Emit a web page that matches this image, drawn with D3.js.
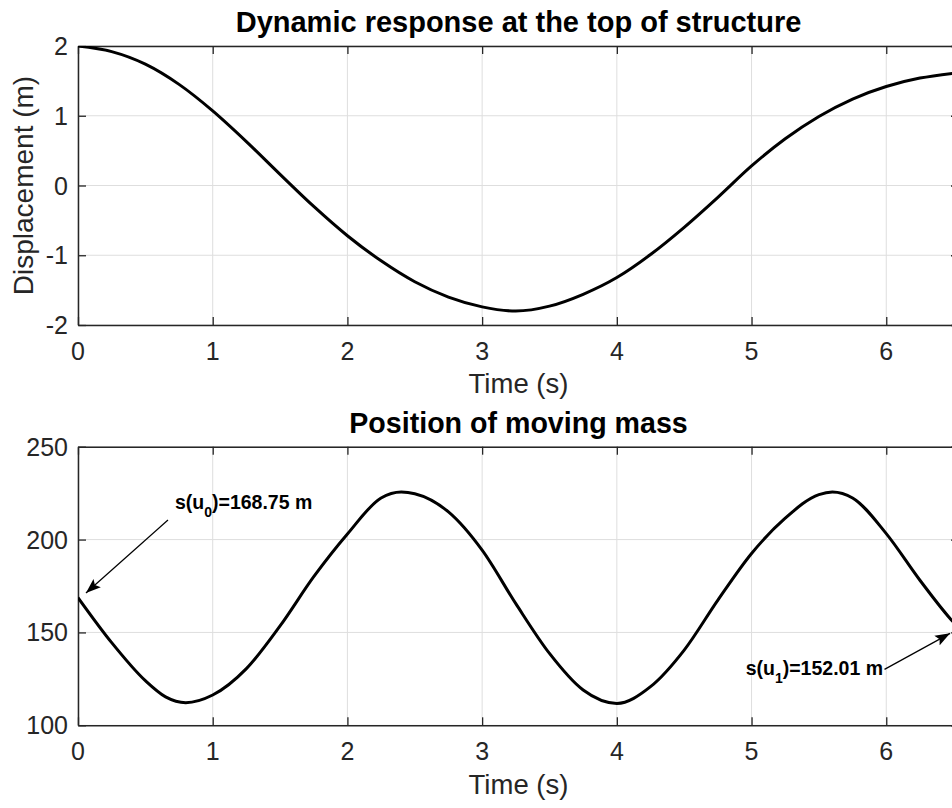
<!DOCTYPE html>
<html>
<head>
<meta charset="utf-8">
<script src="https://cdn.jsdelivr.net/npm/d3@7"></script>
<style>
  html, body { margin: 0; padding: 0; background: #fff; overflow: hidden; }
  svg { display: block; font-family: "Liberation Sans", Arial, Helvetica, sans-serif; }
</style>
</head>
<body>
<svg id="chart" width="952" height="808"></svg>
<script>
// ---------- data ----------
const topTitle = "Dynamic response at the top of structure";
const bottomTitle = "Position of moving mass";
const xLabel = "Time (s)";
const topYLabel = "Displacement (m)";

const xTicks = [0, 1, 2, 3, 4, 5, 6];
const topYTicks = [-2, -1, 0, 1, 2];
const bottomYTicks = [100, 150, 200, 250];

const topTime = [0, 0.25, 0.5, 0.75, 1, 1.25, 1.5, 1.75, 2, 2.25, 2.5, 2.75, 3, 3.25, 3.5, 3.75, 4, 4.25, 4.5, 4.75, 5, 5.25, 5.5, 5.75, 6, 6.25, 6.5, 6.545];
const topDisp = [2.00, 1.92, 1.74, 1.45, 1.07, 0.63, 0.16, -0.30, -0.72, -1.08, -1.38, -1.60, -1.74, -1.80, -1.73, -1.56, -1.32, -0.99, -0.60, -0.17, 0.28, 0.67, 0.99, 1.24, 1.42, 1.54, 1.61, 1.62];

const bottomTime = [0, 0.25, 0.5, 0.65, 0.8, 1, 1.25, 1.5, 1.75, 2, 2.25, 2.4, 2.5, 2.75, 3, 3.25, 3.5, 3.75, 4, 4.25, 4.5, 4.75, 5, 5.25, 5.5, 5.6, 5.75, 6, 6.25, 6.5, 6.545];
const bottomPos = [168.75, 144.5, 124, 115.3, 112.2, 116.3, 130.5, 153.5, 180, 203, 222.4, 225.6, 224.7, 214.9, 194.3, 165.5, 138.7, 119, 111.8, 120.8, 140.5, 167.4, 192.5, 211.5, 224.2, 225.6, 222.4, 203.2, 178.1, 155.4, 152.01];

// annotations (data coordinates of the bottom plot)
const annoNames = ["0", "1"];
const annoValues = ["168.75", "152.01"];
const annoTail = [[0.668, 210.5], [5.987, 130.1]];
const annoTip = [[0.059, 171.2], [6.474, 149.5]];
const annoText = [[0.72, 216.5], [5.976, 127.1]];
const annoAnchor = ["start", "end"];

// ---------- layout ----------
const axisColor = "#262626";
const gridColor = "#dedede";
const left = 78, right = 959;
const panels = [
  { top: 46, bottom: 325, domain: [-2, 2], ticks: topYTicks, time: topTime, vals: topDisp,
    title: topTitle, titleSize: 29, titleY: 32, tickLabelY: 360, xLabelY: 393, yLabel: topYLabel },
  { top: 446.7, bottom: 725.3, domain: [100, 250], ticks: bottomYTicks, time: bottomTime, vals: bottomPos,
    title: bottomTitle, titleSize: 28.6, titleY: 433, tickLabelY: 760, xLabelY: 794, yLabel: null }
];

const svg = d3.select("#chart");
svg.append("rect").attr("width", 952).attr("height", 808).attr("fill", "#fff");

const defs = svg.append("defs");
defs.append("marker")
  .attr("id", "arrowHead")
  .attr("markerUnits", "userSpaceOnUse")
  .attr("viewBox", "0 -6 16 12")
  .attr("markerWidth", 16).attr("markerHeight", 12)
  .attr("refX", 15).attr("refY", 0)
  .attr("orient", "auto")
  .append("path")
  .attr("d", "M0,-5.5 L15,0 L0,5.5 L3,0 Z")
  .attr("fill", "#000");

const x = d3.scaleLinear().domain([0, 6.54]).range([left, right]);

panels.forEach((p, i) => {
  const y = d3.scaleLinear().domain(p.domain).range([p.bottom, p.top]);
  const g = svg.append("g");
  const clipId = "clip" + i;
  defs.append("clipPath").attr("id", clipId)
    .append("rect").attr("x", left).attr("y", p.top)
    .attr("width", right - left).attr("height", p.bottom - p.top);

  // grid
  g.append("g").selectAll("line").data(xTicks).join("line")
    .attr("x1", d => x(d)).attr("x2", d => x(d))
    .attr("y1", p.top).attr("y2", p.bottom)
    .attr("stroke", gridColor).attr("stroke-width", 1);
  g.append("g").selectAll("line").data(p.ticks).join("line")
    .attr("x1", left).attr("x2", right)
    .attr("y1", d => y(d)).attr("y2", d => y(d))
    .attr("stroke", gridColor).attr("stroke-width", 1);

  // axes via d3 (inward ticks)
  const xb = d3.axisBottom(x).tickValues(xTicks).tickSizeInner(-8).tickSizeOuter(0).tickFormat("");
  const xt = d3.axisTop(x).tickValues(xTicks).tickSizeInner(-8).tickSizeOuter(0).tickFormat("");
  const yl = d3.axisLeft(y).tickValues(p.ticks).tickSizeInner(-8).tickSizeOuter(0).tickFormat("");
  const yr = d3.axisRight(y).tickValues(p.ticks).tickSizeInner(-8).tickSizeOuter(0).tickFormat("");
  [[xb, `translate(0,${p.bottom})`], [xt, `translate(0,${p.top})`],
   [yl, `translate(${left},0)`], [yr, `translate(${right},0)`]].forEach(([ax, tr]) => {
    const a = g.append("g").attr("transform", tr).call(ax);
    a.selectAll("path.domain").attr("stroke", axisColor).attr("stroke-width", 1.5);
    a.selectAll(".tick line").attr("stroke", axisColor).attr("stroke-width", 1.3);
  });

  // tick labels
  g.append("g").selectAll("text").data(xTicks).join("text")
    .attr("x", d => x(d)).attr("y", p.tickLabelY)
    .attr("text-anchor", "middle").attr("font-size", 25).attr("fill", axisColor)
    .text(d => d);
  g.append("g").selectAll("text").data(p.ticks).join("text")
    .attr("x", 68).attr("y", d => y(d))
    .attr("dy", "0.36em")
    .attr("text-anchor", "end").attr("font-size", 25).attr("fill", axisColor)
    .text(d => d);

  // curve
  const line = d3.line()
    .x(d => x(d[0])).y(d => y(d[1]))
    .curve(d3.curveMonotoneX);
  g.append("path")
    .datum(p.time.map((t, k) => [t, p.vals[k]]))
    .attr("clip-path", `url(#${clipId})`)
    .attr("d", line)
    .attr("fill", "none").attr("stroke", "#000").attr("stroke-width", 3)
    .attr("stroke-linejoin", "round");

  // title
  svg.append("text").attr("x", (left + right) / 2).attr("y", p.titleY)
    .attr("text-anchor", "middle").attr("font-size", p.titleSize).attr("font-weight", "bold")
    .attr("fill", "#000").text(p.title);
  // x label
  svg.append("text").attr("x", (left + right) / 2).attr("y", p.xLabelY)
    .attr("text-anchor", "middle").attr("font-size", 27.5).attr("fill", axisColor)
    .text(xLabel);
  // y label
  if (p.yLabel) {
    svg.append("text")
      .attr("transform", `translate(33,${(p.top + p.bottom) / 2}) rotate(-90)`)
      .attr("text-anchor", "middle").attr("font-size", 28).attr("fill", axisColor)
      .text(p.yLabel);
  }

  // annotations on bottom panel
  if (i === 1) {
    annoNames.forEach((n, k) => {
      svg.append("line")
        .attr("x1", x(annoTail[k][0])).attr("y1", y(annoTail[k][1]))
        .attr("x2", x(annoTip[k][0])).attr("y2", y(annoTip[k][1]))
        .attr("stroke", "#000").attr("stroke-width", 1.2)
        .attr("marker-end", "url(#arrowHead)");
      const t = svg.append("text")
        .attr("x", x(annoText[k][0])).attr("y", y(annoText[k][1]))
        .attr("text-anchor", annoAnchor[k])
        .attr("font-size", 19.5).attr("font-weight", "bold").attr("fill", "#000");
      t.append("tspan").text("s(u");
      t.append("tspan").attr("dy", 8).attr("font-size", 14).text(n);
      t.append("tspan").attr("dy", -8).text(")=" + annoValues[k] + " m");
    });
  }
});
</script>
</body>
</html>
